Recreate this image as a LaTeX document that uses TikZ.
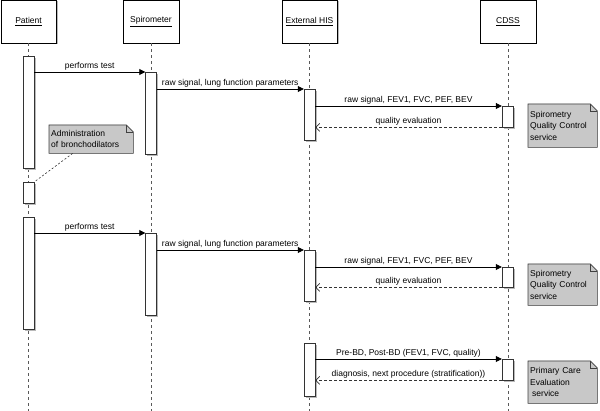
\documentclass[tikz,border=0pt]{standalone}
\usepackage{fontspec}
\setmainfont{Liberation Sans}
\usepackage{xcolor}
\usetikzlibrary{arrows.meta, positioning, calc, shadows, backgrounds}
\definecolor{notegray}{RGB}{200,200,200}
\definecolor{shadowgray}{RGB}{185,185,185}
\newcommand{\notepath}[1]{(#1.south west) -- (#1.north west) -- ($(#1.north east)+(-7pt,0pt)$) -- ($(#1.north east)+(0pt,-7pt)$) -- (#1.south east) -- cycle}

\begin{document}
\begin{tikzpicture}[x=1pt, y=-1pt,
    font=\fontsize{8.5}{11.5}\selectfont,
    actor/.style={rectangle, draw=black, fill=white, minimum width=55.5pt, minimum height=43pt, drop shadow={shadow xshift=1.5pt, shadow yshift=-1.5pt, fill=shadowgray, opacity=1}},
    bar/.style={rectangle, draw=black!80, fill=white, anchor=north, minimum width=11pt, inner sep=0pt, drop shadow={shadow xshift=1.5pt, shadow yshift=-1.5pt, fill=shadowgray, opacity=1}},
    note/.style={rectangle, anchor=north west, inner xsep=2pt, inner ysep=0pt, align=left},
    lifeline/.style={black!65, dash pattern=on 3pt off 3pt, line width=0.8pt},
    msg/.style={-{Triangle[length=6pt,width=6pt]}, black, line width=0.8pt},
    reply/.style={-{Straight Barb[length=4pt,width=8pt]}, black!80, line width=0.7pt, dash pattern=on 3pt off 2pt},
    lbl/.style={midway, above, inner sep=1.5pt, text=black}
]
\useasboundingbox (0,0) rectangle (600,411);

% actors and lifelines
\node[actor] (patient) at (28.5,21.5) {\underline{Patient}};
\node[actor] (spiro) at (151,21.5) {\underline{Spirometer}};
\node[actor] (his) at (309.5,21.5) {\underline{External HIS}};
\node[actor] (cdss) at (508,21.5) {\underline{CDSS}};

\draw[lifeline] (patient.south) -- (patient |- 0,411);
\draw[lifeline] (spiro.south) -- (spiro |- 0,411);
\draw[lifeline] (his.south) -- (his |- 0,411);
\draw[lifeline] (cdss.south) -- (cdss |- 0,411);

% activations
\node[bar, minimum height=112pt] (pa1) at (28.5,56) {};
\node[bar, minimum height=21pt] (pa2) at (28.5,182) {};
\node[bar, minimum height=112pt] (pa3) at (28.5,217) {};
\node[bar, minimum height=82pt] (sp1) at (151,72) {};
\node[bar, minimum height=82pt] (sp2) at (151,233) {};
\node[bar, minimum height=51pt] (his1) at (309.5,89) {};
\node[bar, minimum height=51pt] (his2) at (309.5,250) {};
\node[bar, minimum height=53pt] (his3) at (309.5,343) {};
\node[bar, minimum height=21pt] (cd1) at (507.5,106) {};
\node[bar, minimum height=20pt] (cd2) at (507.5,267) {};
\node[bar, minimum height=21pt] (cd3) at (507.5,359) {};

% pre-bronchodilator test
\draw[msg] (pa1.east |- sp1.north) -- node[lbl] {performs test} (sp1.north west);
\draw[msg] (sp1.east |- his1.north) -- node[lbl] {raw signal, lung function parameters} (his1.north west);
\draw[msg] (his1.east |- cd1.north) -- node[lbl] {raw signal, FEV1, FVC, PEF, BEV} (cd1.north west);
\draw[reply] (cd1.south west) -- node[lbl] {quality evaluation} (his1.east |- cd1.south);

% post-bronchodilator test
\draw[msg] (pa3.east |- sp2.north) -- node[lbl] {performs test} (sp2.north west);
\draw[msg] (sp2.east |- his2.north) -- node[lbl] {raw signal, lung function parameters} (his2.north west);
\draw[msg] (his2.east |- cd2.north) -- node[lbl] {raw signal, FEV1, FVC, PEF, BEV} (cd2.north west);
\draw[reply] (cd2.south west) -- node[lbl] {quality evaluation} (his2.east |- cd2.south);

% evaluation
\draw[msg] (his3.east |- cd3.north) -- node[lbl] {Pre-BD, Post-BD (FEV1, FVC, quality)} (cd3.north west);
\draw[reply] (cd3.south west) -- node[lbl] {diagnosis, next procedure (stratification))} (his3.east |- cd3.south);

% notes
\node[note, minimum width=84pt, minimum height=28pt, text width=80pt] (adm) at (49,125) {Administration\\of bronchodilators};
\node[note, minimum width=69pt, minimum height=43pt, text width=65pt] (sqc1) at (528,104) {Spirometry\\Quality Control\\service};
\node[note, minimum width=69pt, minimum height=41pt, text width=65pt] (sqc2) at (528,264) {Spirometry\\Quality Control\\service};
\node[note, minimum width=69pt, minimum height=42pt, text width=65pt] (pce) at (528,361) {Primary Care\\Evaluation\\\hspace*{2pt}service};

\begin{scope}[on background layer]
\foreach \n in {adm, sqc1, sqc2, pce} {
  \fill[shadowgray, xshift=2pt, yshift=-2pt] \notepath{\n};
  \filldraw[fill=notegray, draw=black!75, line width=0.6pt] \notepath{\n};
  \draw[black!75, line width=0.6pt] ($(\n.north east)+(-7pt,0pt)$) -- ($(\n.north east)+(-7pt,-7pt)$) -- ($(\n.north east)+(0pt,-7pt)$);
}
\end{scope}

\draw[black!80, line width=0.6pt, dash pattern=on 2pt off 2pt] ($(adm.south west)!0.28!(adm.south east)$) -- (pa2.north east);

\end{tikzpicture}
\end{document}
